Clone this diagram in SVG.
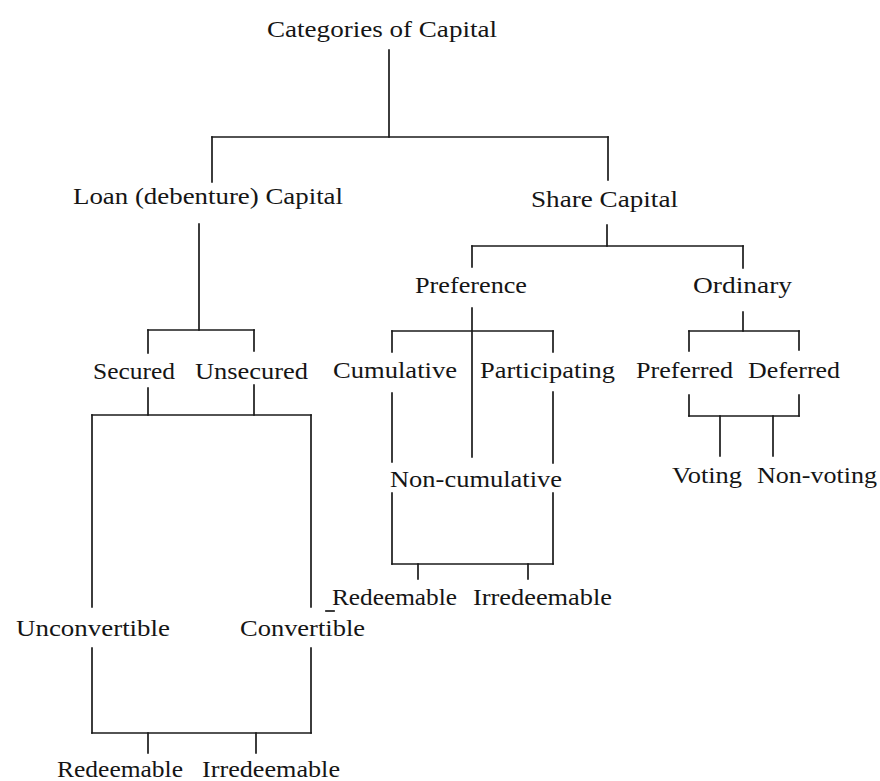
<svg xmlns="http://www.w3.org/2000/svg" width="880" height="781" viewBox="0 0 880 781">
<style>
text{font-family:"Liberation Serif","Times New Roman",serif;font-size:24px;fill:#151515;}
.c line{stroke:#1a1a1a;stroke-width:1.7;stroke-linecap:square;}
</style>
<rect width="880" height="781" fill="#ffffff"/>
<g class="c" id="connectors">
<line x1="389" y1="50" x2="389" y2="137"/>
<line x1="212" y1="137" x2="608" y2="137"/>
<line x1="212" y1="137" x2="212" y2="182"/>
<line x1="608" y1="137" x2="608" y2="180"/>
<line x1="199" y1="224" x2="199" y2="330"/>
<line x1="148" y1="330" x2="254" y2="330"/>
<line x1="148" y1="330" x2="148" y2="353"/>
<line x1="254" y1="330" x2="254" y2="351"/>
<line x1="148" y1="388" x2="148" y2="415"/>
<line x1="254" y1="385" x2="254" y2="415"/>
<line x1="92" y1="415" x2="311" y2="415"/>
<line x1="92" y1="415" x2="92" y2="607"/>
<line x1="311" y1="415" x2="311" y2="607"/>
<line x1="92" y1="648" x2="92" y2="733"/>
<line x1="311" y1="648" x2="311" y2="733"/>
<line x1="92" y1="733" x2="311" y2="733"/>
<line x1="148" y1="733" x2="148" y2="753"/>
<line x1="256" y1="733" x2="256" y2="753"/>
<line x1="607" y1="225" x2="607" y2="246"/>
<line x1="472" y1="246" x2="743" y2="246"/>
<line x1="472" y1="246" x2="472" y2="267"/>
<line x1="743" y1="246" x2="743" y2="268"/>
<line x1="472" y1="308" x2="472" y2="457"/>
<line x1="392" y1="331" x2="553" y2="331"/>
<line x1="392" y1="331" x2="392" y2="352"/>
<line x1="553" y1="331" x2="553" y2="352"/>
<line x1="392" y1="393" x2="392" y2="462"/>
<line x1="553" y1="392" x2="553" y2="463"/>
<line x1="392" y1="493" x2="392" y2="564"/>
<line x1="553" y1="493" x2="553" y2="564"/>
<line x1="392" y1="564" x2="553" y2="564"/>
<line x1="418" y1="564" x2="418" y2="579"/>
<line x1="528" y1="564" x2="528" y2="579"/>
<line x1="743" y1="312" x2="743" y2="331"/>
<line x1="689" y1="331" x2="799" y2="331"/>
<line x1="689" y1="331" x2="689" y2="351"/>
<line x1="799" y1="331" x2="799" y2="350"/>
<line x1="689" y1="395" x2="689" y2="416"/>
<line x1="799" y1="395" x2="799" y2="416"/>
<line x1="689" y1="416" x2="799" y2="416"/>
<line x1="720" y1="416" x2="720" y2="456"/>
<line x1="773" y1="416" x2="773" y2="456"/>
<line x1="326" y1="611" x2="334" y2="611"/>
</g>
<g id="n-categories"><text x="267" y="37" textLength="230" lengthAdjust="spacingAndGlyphs">Categories of Capital</text></g>
<g id="n-loan"><text x="73" y="204" textLength="270" lengthAdjust="spacingAndGlyphs">Loan (debenture) Capital</text></g>
<g id="n-share"><text x="531" y="207" textLength="147" lengthAdjust="spacingAndGlyphs">Share Capital</text></g>
<g id="n-preference"><text x="415" y="293" textLength="112" lengthAdjust="spacingAndGlyphs">Preference</text></g>
<g id="n-ordinary"><text x="693" y="293" textLength="99" lengthAdjust="spacingAndGlyphs">Ordinary</text></g>
<g id="n-secured"><text x="93" y="379" textLength="82" lengthAdjust="spacingAndGlyphs">Secured</text></g>
<g id="n-unsecured"><text x="195" y="379" textLength="113" lengthAdjust="spacingAndGlyphs">Unsecured</text></g>
<g id="n-cumulative"><text x="333" y="378" textLength="124" lengthAdjust="spacingAndGlyphs">Cumulative</text></g>
<g id="n-participating"><text x="480" y="378" textLength="135" lengthAdjust="spacingAndGlyphs">Participating</text></g>
<g id="n-preferred"><text x="636" y="378" textLength="97" lengthAdjust="spacingAndGlyphs">Preferred</text></g>
<g id="n-deferred"><text x="748" y="378" textLength="92" lengthAdjust="spacingAndGlyphs">Deferred</text></g>
<g id="n-voting"><text x="672" y="483" textLength="70" lengthAdjust="spacingAndGlyphs">Voting</text></g>
<g id="n-nonvoting"><text x="757" y="483" textLength="120" lengthAdjust="spacingAndGlyphs">Non-voting</text></g>
<g id="n-noncumulative"><text x="390" y="487" textLength="172" lengthAdjust="spacingAndGlyphs">Non-cumulative</text></g>
<g id="n-redeemable-share"><text x="332" y="605" textLength="125" lengthAdjust="spacingAndGlyphs">Redeemable</text></g>
<g id="n-irredeemable-share"><text x="473" y="605" textLength="139" lengthAdjust="spacingAndGlyphs">Irredeemable</text></g>
<g id="n-unconvertible"><text x="16" y="636" textLength="154" lengthAdjust="spacingAndGlyphs">Unconvertible</text></g>
<g id="n-convertible"><text x="240" y="636" textLength="125" lengthAdjust="spacingAndGlyphs">Convertible</text></g>
<g id="n-redeemable-loan"><text x="57" y="777" textLength="126" lengthAdjust="spacingAndGlyphs">Redeemable</text></g>
<g id="n-irredeemable-loan"><text x="202" y="777" textLength="138" lengthAdjust="spacingAndGlyphs">Irredeemable</text></g>
</svg>
